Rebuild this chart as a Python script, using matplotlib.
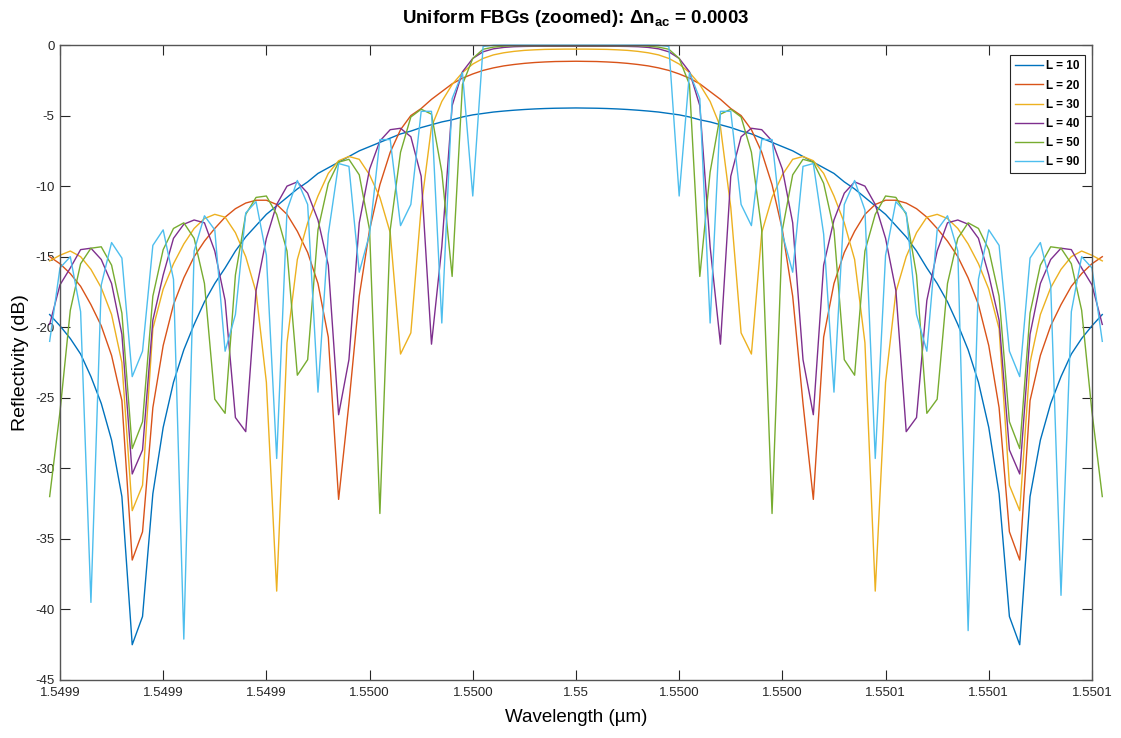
import numpy as np
import matplotlib
matplotlib.use("Agg")
import matplotlib.pyplot as plt

plt.rcParams["font.family"] = ["Liberation Sans", "DejaVu Sans"]
plt.rcParams["axes.unicode_minus"] = False
plt.rcParams["mathtext.fontset"] = "custom"
plt.rcParams["mathtext.bf"] = "Liberation Sans:bold"
plt.rcParams["mathtext.rm"] = "Liberation Sans"

# sample index k = -1 .. 101, grid step 2e-6 um (0.002 nm), k=0 -> 1.5499 um
sample_idx = np.arange(-1, 102)
wavelength = 1.5499 + 2e-6 * sample_idx

lengths = ["L = 10", "L = 20", "L = 30", "L = 40", "L = 50", "L = 90"]
colors = ["#0072BD", "#D95319", "#EDB120", "#7E2F8E", "#77AC30", "#4DBEEE"]

# reflectivity (dB), k = -1 .. 101
r_L10 = [-19.1, -19.9, -20.8, -21.9, -23.5, -25.4, -28.0, -32.0, -42.5, -40.5,
         -31.8, -27.1, -23.9, -21.6, -19.8, -18.2, -16.9, -15.8, -14.6, -13.6,
         -12.8, -12.0, -11.4, -10.8, -10.2, -9.7, -9.1, -8.7, -8.3, -7.9,
         -7.5, -7.2, -6.9, -6.6, -6.3, -6.1, -5.85, -5.65, -5.45, -5.3,
         -5.1, -4.95, -4.85, -4.75, -4.68, -4.62, -4.57, -4.53, -4.5, -4.48,
         -4.47, -4.46,
         -4.47, -4.48, -4.5, -4.53, -4.57, -4.62, -4.68, -4.75, -4.85, -4.95,
         -5.1, -5.3, -5.45, -5.65, -5.85, -6.1, -6.3, -6.6, -6.9, -7.2,
         -7.5, -7.9, -8.3, -8.7, -9.1, -9.7, -10.2, -10.8, -11.4, -12.0,
         -12.8, -13.6, -14.6, -15.8, -16.9, -18.2, -19.8, -21.6, -23.9, -27.1,
         -31.8, -40.5, -42.5, -32.0, -28.0, -25.4, -23.5, -21.9, -20.8, -19.9,
         -19.1]
r_L20 = [-15.0, -15.5, -16.2, -17.1, -18.4, -19.9, -22.0, -25.2, -36.5, -34.5,
         -25.7, -21.3, -18.4, -16.5, -15.0, -13.9, -13.0, -12.2, -11.6, -11.2,
         -11.0, -11.0, -11.3, -12.0, -13.2, -14.7, -16.9, -20.7, -32.2, -25.4,
         -17.8, -13.1, -9.9, -7.6, -6.0, -5.0, -4.5, -3.85, -3.3, -2.75,
         -2.35, -2.05, -1.8, -1.62, -1.48, -1.38, -1.3, -1.24, -1.2, -1.17,
         -1.16, -1.15,
         -1.16, -1.17, -1.2, -1.24, -1.3, -1.38, -1.48, -1.62, -1.8, -2.05,
         -2.35, -2.75, -3.3, -3.85, -4.5, -5.0, -6.0, -7.6, -9.9, -13.1,
         -17.8, -25.4, -32.2, -20.7, -16.9, -14.7, -13.2, -12.0, -11.3, -11.0,
         -11.0, -11.2, -11.6, -12.2, -13.0, -13.9, -15.0, -16.5, -18.4, -21.3,
         -25.7, -34.5, -36.5, -25.2, -22.0, -19.9, -18.4, -17.1, -16.2, -15.5,
         -15.0]
r_L30 = [-15.3, -14.9, -14.6, -15.0, -15.9, -17.2, -19.1, -22.5, -33.0, -31.2,
         -20.1, -17.3, -15.5, -14.1, -13.0, -12.3, -12.0, -12.2, -13.3, -15.0,
         -17.5, -23.9, -38.7, -21.1, -15.2, -12.6, -10.7, -9.1, -8.2, -7.9,
         -8.1, -9.2, -10.8, -13.3, -21.9, -20.4, -11.5, -5.8, -4.0, -2.8,
         -1.95, -1.35, -0.95, -0.7, -0.55, -0.45, -0.38, -0.34, -0.31, -0.3,
         -0.29, -0.29,
         -0.29, -0.3, -0.31, -0.34, -0.38, -0.45, -0.55, -0.7, -0.95, -1.35,
         -1.95, -2.8, -4.0, -5.8, -11.5, -20.4, -21.9, -13.3, -10.8, -9.2,
         -8.1, -7.9, -8.2, -9.1, -10.7, -12.6, -15.2, -21.1, -38.7, -23.9,
         -17.5, -15.0, -13.3, -12.2, -12.0, -12.3, -13.0, -14.1, -15.5, -17.3,
         -20.1, -31.2, -33.0, -22.5, -19.1, -17.2, -15.9, -15.0, -14.6, -14.9,
         -15.3]
r_L40 = [-19.8, -17.0, -15.8, -14.5, -14.4, -15.2, -16.9, -20.5, -30.4, -28.7,
         -19.5, -16.3, -13.7, -12.7, -12.4, -12.6, -14.6, -18.1, -26.4, -27.4,
         -17.4, -13.7, -11.3, -10.0, -9.7, -10.5, -12.4, -15.6, -26.2, -22.3,
         -12.6, -8.8, -6.8, -6.0, -5.9, -6.5, -9.3, -21.2, -14.3, -4.3,
         -1.9, -0.95, -0.48, -0.27, -0.17, -0.12, -0.1, -0.09, -0.09, -0.09,
         -0.09, -0.09,
         -0.09, -0.09, -0.09, -0.09, -0.1, -0.12, -0.17, -0.27, -0.48, -0.95,
         -1.9, -4.3, -14.3, -21.2, -9.3, -6.5, -5.9, -6.0, -6.8, -8.8,
         -12.6, -22.3, -26.2, -15.6, -12.4, -10.5, -9.7, -10.0, -11.3, -13.7,
         -17.4, -27.4, -26.4, -18.1, -14.6, -12.6, -12.4, -12.7, -13.7, -16.3,
         -19.5, -28.7, -30.4, -20.5, -16.9, -15.2, -14.4, -14.5, -15.8, -17.0,
         -19.8]
r_L50 = [-32.0, -26.0, -18.8, -15.5, -14.4, -14.3, -15.6, -19.0, -28.6, -26.7,
         -17.8, -14.5, -13.0, -12.6, -13.7, -16.9, -25.1, -26.1, -16.3, -12.0,
         -10.8, -10.7, -12.0, -14.6, -23.4, -22.3, -13.1, -9.8, -8.3, -8.1,
         -9.2, -13.1, -33.2, -13.1, -7.6, -5.1, -4.55, -4.9, -9.0, -16.4,
         -2.8, -0.95, -0.3, -0.15, -0.08, -0.05, -0.05, -0.05, -0.05, -0.05,
         -0.05, -0.05,
         -0.05, -0.05, -0.05, -0.05, -0.05, -0.05, -0.08, -0.15, -0.3, -0.95,
         -2.8, -16.4, -9.0, -4.9, -4.55, -5.1, -7.6, -13.1, -33.2, -13.1,
         -9.2, -8.1, -8.3, -9.8, -13.1, -22.3, -23.4, -14.6, -12.0, -10.7,
         -10.8, -12.0, -16.3, -26.1, -25.1, -16.9, -13.7, -12.6, -13.0, -14.5,
         -17.8, -26.7, -28.6, -19.0, -15.6, -14.3, -14.4, -15.5, -18.8, -26.0,
         -32.0]
r_L90 = [-21.0, -15.8, -15.0, -18.9, -39.5, -17.0, -14.0, -15.1, -23.5, -21.7,
         -14.2, -13.1, -16.6, -42.1, -14.6, -12.1, -13.1, -21.7, -19.1, -11.9,
         -11.1, -14.9, -29.3, -11.7, -9.6, -11.3, -24.6, -13.4, -8.4, -8.6,
         -16.1, -13.4, -6.7, -6.7, -12.8, -11.3, -4.7, -4.7, -19.7, -3.8,
         -1.95, -10.7, -0.1, -0.02, -0.01, -0.01, -0.01, -0.01, -0.01, -0.01,
         -0.01, -0.01,
         -0.01, -0.01, -0.01, -0.01, -0.01, -0.01, -0.01, -0.02, -0.1, -10.7,
         -1.95, -3.8, -19.7, -4.7, -4.7, -11.3, -12.8, -6.7, -6.7, -13.4,
         -16.1, -8.6, -8.4, -13.4, -24.6, -11.3, -9.6, -11.7, -29.3, -14.9,
         -11.1, -11.9, -19.1, -21.7, -13.1, -12.1, -14.6, -41.5, -16.6, -13.1,
         -14.2, -21.7, -23.5, -15.1, -14.0, -17.0, -39.0, -18.9, -15.0, -15.8,
         -21.0]

curves = [r_L10, r_L20, r_L30, r_L40, r_L50, r_L90]

xtick_pos = 1.5499 + 2e-5 * np.arange(11)
xtick_labels = ["1.5499", "1.5499", "1.5499", "1.5500", "1.5500", "1.55",
                "1.5500", "1.5500", "1.5501", "1.5501", "1.5501"]
ytick_pos = np.arange(-45, 1, 5)

fig = plt.figure(figsize=(11.21, 7.38), dpi=100)
ax = fig.add_axes([0.0535, 0.0786, 0.9206, 0.8604])

for y, c, lab in zip(curves, colors, lengths):
    ax.plot(wavelength, y, color=c, lw=1.0, label=lab, clip_on=False)

ax.set_xlim(1.5499, 1.5501)
ax.set_ylim(-45, 0)
ax.set_xticks(xtick_pos)
ax.set_xticklabels(xtick_labels)
ax.set_yticks(ytick_pos)
ax.set_yticklabels([str(v) for v in ytick_pos])
ax.tick_params(direction="in", length=7, width=0.8, top=True, right=True,
               labelsize=9.5, colors="#262626")
ax.tick_params(axis="x", pad=5)
ax.tick_params(axis="y", pad=4)
for s in ax.spines.values():
    s.set_color("#555555")
    s.set_linewidth(1.0)

ax.set_xlabel("Wavelength (\u00b5m)", fontsize=13.5, labelpad=7)
ax.set_ylabel("Reflectivity (dB)", fontsize=14, labelpad=4)
ax.set_title(r"Uniform FBGs (zoomed): $\mathbf{\Delta n_{ac}}$ = 0.0003",
             fontsize=13.5, fontweight="bold", pad=16)

leg = ax.legend(loc="upper right", bbox_to_anchor=(0.9932, 0.984),
                borderaxespad=0, prop={"weight": "bold", "size": 8.5},
                frameon=True, fancybox=False, edgecolor="#262626",
                framealpha=1, handlelength=2.4, labelspacing=0.6,
                borderpad=0.45, handletextpad=0.25)
leg.get_frame().set_linewidth(0.8)

fig.savefig("out.png", dpi=100)
